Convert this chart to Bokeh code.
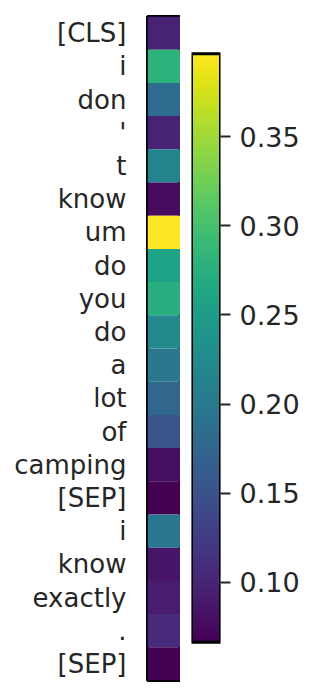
import numpy as np
from bokeh.plotting import figure
from bokeh.layouts import row
from bokeh.models import Range1d, LinearColorMapper, FixedTicker, ColumnDataSource
from bokeh.palettes import Viridis256
from bokeh.transform import linear_cmap
from bokeh.embed import file_html
from bokeh.resources import INLINE

tokens = ["[CLS]", "i", "don", "'", "t", "know", "um", "do", "you", "do",
          "a", "lot", "of", "camping", "[SEP]", "i", "know", "exactly", ".", "[SEP]"]
weights = [0.099, 0.280, 0.182, 0.100, 0.215, 0.076, 0.3964, 0.258, 0.275, 0.222,
           0.198, 0.175, 0.155, 0.079, 0.0665, 0.196, 0.086, 0.093, 0.106, 0.069]
cbar_low = 0.0665
cbar_high = 0.3964
cbar_ticks = [0.10, 0.15, 0.20, 0.25, 0.30, 0.35]

FONT = "DejaVu Sans"
TXT = "#262626"

rows_idx = list(range(len(tokens)))
src = ColumnDataSource(dict(x=[0] * len(tokens), y=rows_idx, w=weights))
p1 = figure(width=180, height=686, output_backend="svg", toolbar_location=None,
            x_range=Range1d(-0.5, 0.5), y_range=Range1d(len(tokens) - 0.5, -0.5),
            min_border_left=147, min_border_right=0, min_border_top=16, min_border_bottom=6)
p1.rect(x="x", y="y", width=1, height=1,
        fill_color=linear_cmap("w", Viridis256, cbar_low, cbar_high),
        line_color=None, source=src)
p1.xaxis.visible = False
p1.grid.visible = False
p1.outline_line_color = "black"
p1.outline_line_width = 3
p1.outline_line_alpha = 1
ya = p1.yaxis[0]
ya.ticker = FixedTicker(ticks=rows_idx)
ya.major_label_overrides = {i: t for i, t in enumerate(tokens)}
ya.major_tick_line_color = None
ya.minor_tick_line_color = None
ya.major_tick_out = 0
ya.major_tick_in = 0
ya.axis_line_color = None
ya.major_label_standoff = 21
ya.major_label_text_font = FONT
ya.major_label_text_font_size = "26px"
ya.major_label_text_color = TXT

# colour bar: frame spans the same height as the heatmap; bar sits inside it
pad_top = 0.0209
pad_bottom = 0.0215
mapper = LinearColorMapper(palette=Viridis256, low=cbar_low, high=cbar_high)
p2 = figure(width=127, height=686, output_backend="svg", toolbar_location=None,
            x_range=Range1d(0, 1), y_range=Range1d(cbar_low - pad_bottom, cbar_high + pad_top),
            y_axis_location="right",
            min_border_left=11, min_border_right=87, min_border_top=16, min_border_bottom=6)
grad = np.linspace(cbar_low, cbar_high, 256).reshape(-1, 1)
p2.image(image=[grad], x=0, y=cbar_low, dw=1, dh=cbar_high - cbar_low, color_mapper=mapper)
p2.quad(left=0, right=1, bottom=cbar_low, top=cbar_high, fill_color=None,
        line_color="black", line_width=3)
p2.xaxis.visible = False
p2.grid.visible = False
p2.outline_line_color = None
ra = p2.yaxis[0]
ra.ticker = FixedTicker(ticks=cbar_ticks)
ra.major_label_overrides = {t: f"{t:.2f}" for t in cbar_ticks}
ra.minor_tick_line_color = None
ra.major_tick_out = 10
ra.major_tick_in = 0
ra.major_tick_line_color = TXT
ra.major_tick_line_width = 2
ra.axis_line_color = None
ra.major_label_standoff = 9
ra.major_label_text_font = FONT
ra.major_label_text_font_size = "27px"
ra.major_label_text_color = TXT

layout = row(p1, p2, spacing=0)
open("out.html", "w").write(file_html(layout, INLINE))
